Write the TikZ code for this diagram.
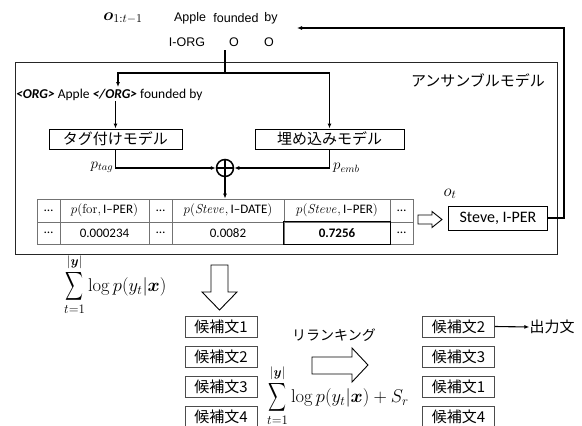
\RequirePackage{fix-cm}
\documentclass[tikz,border=0pt]{standalone}
\usepackage{amsmath}
\usepackage{bm}
\usepackage{graphicx}
\usepackage[no-math]{fontspec}
\setmainfont{Carlito}
\newfontfamily\jpfont{Noto Sans CJK JP}
\newfontfamily\arialfont{Liberation Sans}
\usetikzlibrary{arrows.meta}

\newcommand{\fsz}[1]{\fontsize{#1}{#1}\selectfont}
% a taller, narrower summation sign for the score formulas
\newcommand{\tallsum}{\mathop{\vcenter{\hbox{\scalebox{0.72}[1.15]{$\displaystyle\sum$}}}}\limits}

\begin{document}
\begin{tikzpicture}[x=1pt,y=-1pt,
  lw/.style={line width=1.1pt},
  flow/.style={lw,-{Latex[length=5pt,width=4pt]}},
  hollow/.style={draw,line width=0.9pt,fill=white,line join=miter},
  modelbox/.style={draw,line width=1pt,minimum height=20,inner sep=0,font=\jpfont\fsz{15}},
  cell/.style={draw=black!55,line width=0.8pt,inner sep=0,font=\fsz{13}},
  cand/.style={draw=black!70,line width=0.9pt,minimum width=72,minimum height=21,inner sep=0,font=\jpfont\fsz{15}},
  word/.style={inner sep=0,font=\arialfont\fsz{12.5}},
  score/.style={inner sep=0,font=\fsz{18.5},anchor=west}
]
\useasboundingbox (0,0) rectangle (582,426);

% previous output sequence
\node[inner sep=0,font=\fsz{17}] (olabel) at (123,18) {$\boldsymbol{o}_{1:t-1}$};
\node[word] (w1) at (190,18) {Apple};
\node[word] (w2) at (236,18) {founded};
\node[word] (w3) at (271,18) {by};
\node[word] (t1) at (187,42) {I-ORG};
\node[word] (t2) at (234,42) {O};
\node[word] (t3) at (269,42) {O};

% ensemble model frame
\node[draw=black!85,line width=1.2pt,minimum width=542,minimum height=192,anchor=north west,inner sep=0] (ens) at (15,62) {};
\node[font=\jpfont\fsz{15},inner sep=0] (enslabel) at (478,80) {アンサンブルモデル};

% inputs to the two models
\coordinate (src) at (225,50);
\coordinate (j) at (225,73);
\coordinate (taggedin) at (118,87);
\node[anchor=west,inner sep=0,font=\fsz{13.5}] (tagged) at (16,95)
  {\textbf{\textit{<ORG>}} Apple \textbf{\textit{</ORG>}} founded by};
\node[modelbox,minimum width=133] (tag) at (115.5,139) {タグ付けモデル};
\node[modelbox,minimum width=149] (emb) at (329.5,139) {埋め込みモデル};

\draw[lw] (src) -- (j);
\draw[flow] (j) -| (taggedin);
\draw[flow] (j) -| (emb.north);
\draw[flow] (tagged.south -| tag.north) -- (tag.north);

% combination
\node[circle,draw,line width=1.5pt,minimum size=17,inner sep=0] (plus) at (225,168) {};
\draw[line width=1.5pt] (plus.north) -- (plus.south) (plus.west) -- (plus.east);
\draw[flow] (tag.south) |- (plus.west);
\draw[flow] (emb.south) |- (plus.east);
\node[inner sep=0,font=\fsz{15}] (ptag) at (102,167) {$p_{tag}$};
\node[inner sep=0,font=\fsz{15},anchor=west] (pemb) at (333,168) {$p_{emb}$};

% probability table
\node[cell,minimum width=23,minimum height=23] (c11) at (48.5,210.5) {\dots};
\node[cell,minimum width=89,minimum height=23] (c12) at (104.5,210.5) {$p(\mathrm{for},$\,I\textendash PER$)$};
\node[cell,minimum width=23,minimum height=23] (c13) at (160.5,210.5) {\dots};
\node[cell,minimum width=112,minimum height=23] (c14) at (228,210.5) {$p(\mathit{Steve},$\,I\textendash DATE$)$};
\node[cell,minimum width=106,minimum height=23] (c15) at (337,210.5) {$p(\mathit{Steve},$\,I\textendash PER$)$};
\node[cell,minimum width=23,minimum height=23] (c16) at (401.5,210.5) {\dots};
\node[cell,minimum width=23,minimum height=22] (c21) at (48.5,233) {\dots};
\node[cell,minimum width=89,minimum height=22] (c22) at (104.5,233) {0.000234};
\node[cell,minimum width=23,minimum height=22] (c23) at (160.5,233) {\dots};
\node[cell,minimum width=112,minimum height=22] (c24) at (228,233) {0.0082};
\node[cell,minimum width=106,minimum height=22] (c25) at (337,233) {\textbf{0.7256}};
\node[cell,minimum width=23,minimum height=22] (c26) at (401.5,233) {\dots};
\draw[line width=1.5pt] (c25.north west) rectangle (c25.south east);
\draw[flow] (plus.south) -- (plus.south |- c14.north);

% selected output
\draw[hollow] (418,215) -- (432,215) -- (432,211.5) -- (442,219.5) -- (432,227.5) -- (432,224) -- (418,224) -- cycle;
\node[draw,line width=0.9pt,minimum width=99,minimum height=24,inner sep=0,font=\fsz{16}] (steve) at (498,218) {Steve, I-PER};
\node[inner sep=0,font=\fsz{17}] (olab) at (450,194) {$o_t$};
\coordinate (fb) at (297,28);
\draw[flow] (steve.east) -- ++(16,0) |- (fb);

% beam scores and candidates
\node[score] (score1) at (64,285) {$\displaystyle\tallsum_{t=1}^{|\bm{y}|}\log p(y_t|\bm{x})$};
\draw[hollow] (211,265) -- (228,265) -- (228,292) -- (237,292) -- (219.5,310) -- (202,292) -- (211,292) -- cycle;

\node[cand] (l1) at (221,326.5) {候補文1};
\node[cand] (l2) at (221,357) {候補文2};
\node[cand] (l3) at (221,386.5) {候補文3};
\node[cand] (l4) at (221,416.5) {候補文4};

\node[inner sep=0,font=\jpfont\fsz{14}] (rerank) at (334,335) {リランキング};
\draw[hollow] (312,357) -- (352,357) -- (352,348) -- (368,365) -- (352,382) -- (352,374) -- (312,374) -- cycle;
\node[score] (score2) at (267,396) {$\displaystyle\tallsum_{t=1}^{|\bm{y}|}\log p(y_t|\bm{x})+S_r$};

\node[cand] (r1) at (458.5,326.5) {候補文2};
\node[cand] (r2) at (458.5,357) {候補文3};
\node[cand] (r3) at (458.5,386.5) {候補文1};
\node[cand] (r4) at (458.5,416.5) {候補文4};
\node[inner sep=0,font=\jpfont\fsz{15}] (out) at (552,327) {出力文};
\draw[lw,-{Latex[length=5pt,width=4pt]}] (r1.east) -- (out.west);
\end{tikzpicture}
\end{document}
